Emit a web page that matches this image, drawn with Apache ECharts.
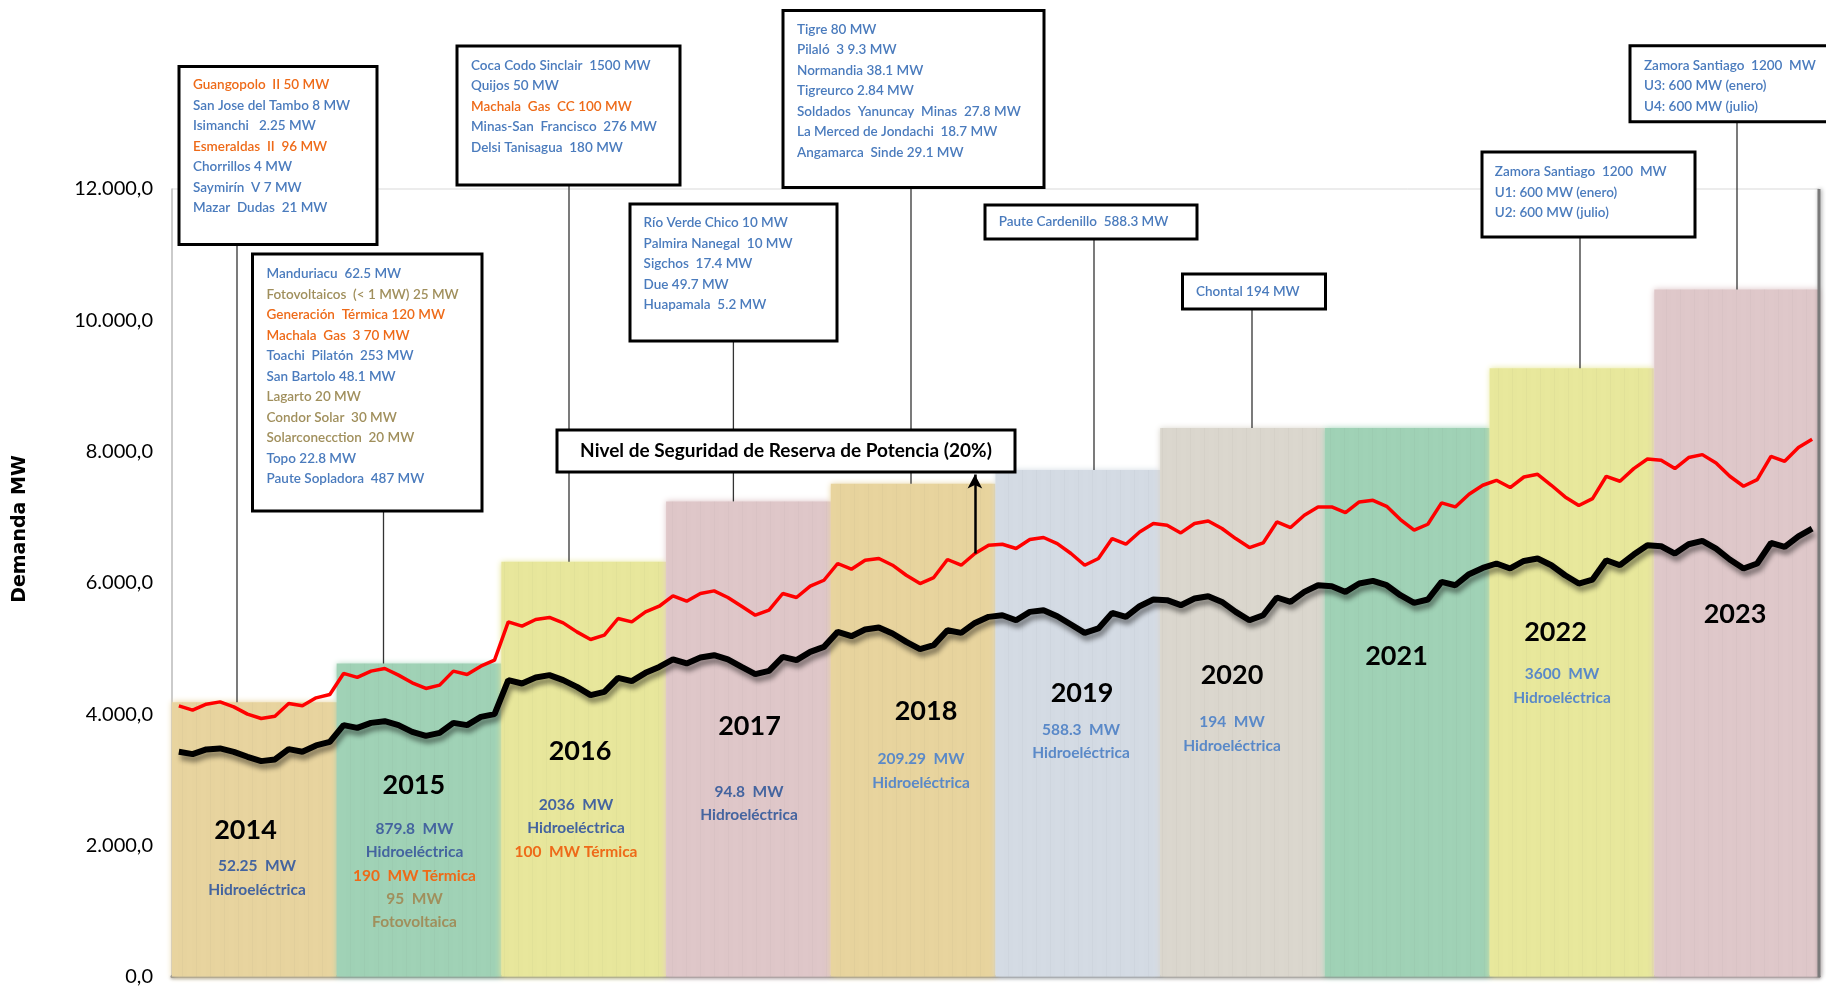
<!DOCTYPE html>
<html><head><meta charset="utf-8">
<script src="https://cdn.jsdelivr.net/npm/echarts@6/dist/echarts.min.js"></script>
<style>html,body{margin:0;padding:0;background:#fff}#c{width:1826px;height:987px}</style>
</head><body><div id="c"></div>
<script>
// ---------- DATA ----------
const years = ['2014','2015','2016','2017','2018','2019','2020','2021','2022','2023'];
// installed capacity blocks (MW)
const capacity = [4180, 4770, 6320, 7240, 7510, 7720, 8360, 8360, 9270, 10470];
// monthly demand (MW) – black line
const demand = [
  3425,3390,3461,3477,3425,3349,3283,3309,3466,3425,3522,3577,
  3831,3790,3866,3892,3831,3729,3668,3714,3866,3831,3958,3999,
  4517,4466,4558,4593,4517,4415,4288,4339,4552,4501,4628,4719,
  4832,4771,4862,4897,4832,4719,4608,4658,4871,4821,4947,5024,
  5252,5186,5289,5319,5228,5100,4990,5050,5278,5237,5389,5481,
  5506,5430,5557,5583,5491,5365,5237,5304,5542,5481,5643,5745,
  5735,5659,5761,5796,5709,5557,5430,5506,5776,5709,5861,5963,
  5948,5861,5989,6029,5963,5811,5694,5745,6013,5963,6131,6227,
  6294,6218,6333,6370,6268,6115,5989,6050,6344,6268,6431,6572,
  6557,6446,6588,6638,6522,6355,6218,6294,6607,6546,6709,6827
];
// monthly demand + reserve level – red line
const reserve = [
  4126,4060,4151,4186,4110,3999,3933,3968,4162,4126,4247,4298,
  4619,4558,4654,4695,4593,4476,4390,4441,4654,4603,4730,4821,
  5405,5339,5441,5472,5389,5252,5136,5202,5456,5405,5557,5643,
  5800,5720,5837,5877,5776,5643,5506,5583,5837,5776,5948,6039,
  6294,6207,6344,6370,6268,6115,5989,6080,6355,6268,6446,6572,
  6588,6522,6659,6690,6598,6446,6268,6370,6674,6588,6775,6903,
  6877,6760,6903,6942,6827,6674,6537,6607,6927,6842,7029,7156,
  7156,7070,7232,7257,7166,6964,6801,6892,7217,7156,7349,7486,
  7562,7451,7612,7653,7486,7308,7177,7283,7623,7547,7740,7886,
  7867,7740,7908,7953,7825,7623,7471,7573,7927,7851,8060,8186
];
const monthNames = ['ene','feb','mar','abr','may','jun','jul','ago','sep','oct','nov','dic'];
const yTickStep = 2000;
const arrowMonthIndex = 58;      // nov-2018
const arrowTopValue = 7650;
const reserveTitle = 'Nivel de Seguridad de Reserva de Potencia (20%)';
const axisTitle = 'Demanda MW';

// text of the project boxes  (colour key, text)
const box2014 = [['o','Guangopolo  II 50 MW'],['b','San Jose del Tambo 8 MW'],['b','Isimanchi   2.25 MW'],['o','Esmeraldas  II  96 MW'],['b','Chorrillos 4 MW'],['b','Saymirín  V 7 MW'],['b','Mazar  Dudas  21 MW']];
const box2015 = [['b','Manduriacu  62.5 MW'],['t','Fotovoltaicos  (< 1 MW) 25 MW'],['o','Generación  Térmica 120 MW'],['o','Machala  Gas  3 70 MW'],['b','Toachi  Pilatón  253 MW'],['b','San Bartolo 48.1 MW'],['t','Lagarto 20 MW'],['t','Condor Solar  30 MW'],['t','Solarconecction  20 MW'],['b','Topo 22.8 MW'],['b','Paute Sopladora  487 MW']];
const box2016 = [['b','Coca Codo Sinclair  1500 MW'],['b','Quijos 50 MW'],['o','Machala  Gas  CC 100 MW'],['b','Minas-San  Francisco  276 MW'],['b','Delsi Tanisagua  180 MW']];
const box2017 = [['b','Río Verde Chico 10 MW'],['b','Palmira Nanegal  10 MW'],['b','Sigchos  17.4 MW'],['b','Due 49.7 MW'],['b','Huapamala  5.2 MW']];
const box2018 = [['b','Tigre 80 MW'],['b','Pilaló  3 9.3 MW'],['b','Normandia 38.1 MW'],['b','Tigreurco 2.84 MW'],['b','Soldados  Yanuncay  Minas  27.8 MW'],['b','La Merced de Jondachi  18.7 MW'],['b','Angamarca  Sinde 29.1 MW']];
const box2019 = [['b','Paute Cardenillo  588.3 MW']];
const box2020 = [['b','Chontal 194 MW']];
const box2022 = [['b','Zamora Santiago  1200  MW'],['b','U1: 600 MW (enero)'],['b','U2: 600 MW (julio)']];
const box2023 = [['b','Zamora Santiago  1200  MW'],['b','U3: 600 MW (enero)'],['b','U4: 600 MW (julio)']];

// text inside the year blocks (colour key, text)
const notes2014 = [['d','52.25  MW'],['d','Hidroeléctrica']];
const notes2015 = [['d','879.8  MW'],['d','Hidroeléctrica'],['o','190  MW Térmica'],['t','95  MW'],['t','Fotovoltaica']];
const notes2016 = [['d','2036  MW'],['d','Hidroeléctrica'],['o','100  MW Térmica']];
const notes2017 = [['d','94.8  MW'],['d','Hidroeléctrica']];
const notes2018 = [['l','209.29  MW'],['l','Hidroeléctrica']];
const notes2019 = [['l','588.3  MW'],['l','Hidroeléctrica']];
const notes2020 = [['l','194  MW'],['l','Hidroeléctrica']];
const notes2022 = [['l','3600  MW'],['l','Hidroeléctrica']];

// ---------- STYLE / LAYOUT ----------
const barColors = ['#e8d49f','#a0d2b6','#e8e79c','#dfc7c9','#e8d49e','#d4dbe4','#dbd7ce','#a0d2b6','#e8e89c','#dfc8ca'];
const txtColors = {b:'#4a7bbd', o:'#ee6a18', t:'#a08f5c', d:'#44649f', l:'#5a89c8'};
const boxLayout = [
  {lines: box2014, x:179,  y:66.5, w:198, h:178, pad:14,  first:18.5, cx:237,   yi:0},
  {lines: box2015, x:252.5,y:254,  w:229.5,h:257,pad:14,  first:20,   cx:383.5, yi:1},
  {lines: box2016, x:457,  y:46,   w:223, h:139, pad:14,  first:19.3, cx:569,   yi:2},
  {lines: box2017, x:630,  y:204,  w:207, h:137, pad:13.6,first:18.7, cx:733.4, yi:3},
  {lines: box2018, x:783,  y:10.5, w:261, h:177, pad:14,  first:19,   cx:911,   yi:4},
  {lines: box2019, x:985,  y:205,  w:212, h:34,  pad:13.7,first:17,   cx:1094,  yi:5},
  {lines: box2020, x:1182.5,y:274, w:143, h:35,  pad:13.5,first:17.5, cx:1252,  yi:6},
  {lines: box2022, x:1482, y:152,  w:213, h:85,  pad:12.8,first:19.7, cx:1580,  yi:8},
  {lines: box2023, x:1630, y:45.7, w:220, h:76,  pad:14,  first:19.6, cx:1737,  yi:9}
];
const yearLabelPos = [[245.5,830.5],[413.8,785],[580,751],[749.5,726],[926,711],[1082,693],[1232,675],[1396.5,656],[1555.5,632],[1735,614]];
const notesLayout = [
  {lines: notes2014, x:257,   y:866,   dy:24},
  {lines: notes2015, x:414.5, y:829,   dy:23.3},
  {lines: notes2016, x:576,   y:804.5, dy:23.5},
  {lines: notes2017, x:749,   y:791.5, dy:23.8},
  {lines: notes2018, x:921,   y:758.5, dy:24},
  {lines: notes2019, x:1081,  y:729.5, dy:23.5},
  {lines: notes2020, x:1232,  y:721.5, dy:24},
  {lines: notes2022, x:1562,  y:673.5, dy:24}
];

const months = [];
years.forEach(y => monthNames.forEach(m => months.push(m + '-' + y)));

function fmt(v){
  return String(Math.round(v)).replace(/\B(?=(\d{3})+(?!\d))/g, '.') + ',0';
}

const chart = echarts.init(document.getElementById('c'), null, {renderer:'canvas'});
chart.setOption({
  animation: false,
  backgroundColor: '#ffffff',
  grid: {left:172, right:7, top:189, bottom:10.4, show:true, borderColor:'#d9d9d9', borderWidth:1, backgroundColor:'transparent'},
  xAxis: [
    {type:'category', data: years, gridIndex:0, boundaryGap:true,
     axisLabel:{show:false}, axisTick:{show:false},
     axisLine:{show:true, lineStyle:{color:'#8a8a8a', width:3, shadowColor:'rgba(0,0,0,0.35)', shadowBlur:3, shadowOffsetY:1}},
     splitLine:{show:false}},
    {type:'category', data: months, gridIndex:0, boundaryGap:true, show:false}
  ],
  yAxis: {type:'value', min:0, max:12000, interval:yTickStep,
    axisLabel:{formatter: fmt, fontSize:20, fontFamily:'Lato', color:'#000', margin:19},
    axisLine:{show:true, lineStyle:{color:'#c0c0c0', width:1.5}},
    axisTick:{show:false}, splitLine:{show:false}},
  series: [
    {type:'bar', xAxisIndex:0, yAxisIndex:0, barCategoryGap:'0%', silent:true, z:1,
     data: capacity.map((v,i)=>({value:v, itemStyle:{color:barColors[i], shadowColor:barColors[i], shadowBlur:6,
       decal:{symbol:'rect', symbolSize:1, dashArrayX:[1, 12.73], dashArrayY:[20, 0], color:'rgba(90,90,90,0.04)'}}}))},
    {type:'line', name:'Demanda', xAxisIndex:1, yAxisIndex:0, data: demand, showSymbol:false, symbol:'none', silent:true, z:3,
     lineStyle:{color:'#000', width:6, shadowColor:'rgba(0,0,0,0.45)', shadowBlur:5, shadowOffsetX:2, shadowOffsetY:5}},
    {type:'line', name:'Reserva', xAxisIndex:1, yAxisIndex:0, data: reserve, showSymbol:false, symbol:'none', silent:true, z:4,
     lineStyle:{color:'#ff0000', width:3.5},
     markLine:{silent:true, symbol:['none','arrow'], symbolSize:[11,14], label:{show:false},
       lineStyle:{color:'#000', width:2.5, type:'solid'},
       data:[[{coord:[arrowMonthIndex, reserve[arrowMonthIndex]]},{coord:[arrowMonthIndex, arrowTopValue]}]]}}
  ]
});

// ---------- ANNOTATIONS ----------
const g = [];
boxLayout.forEach(b => {
  const topY = chart.convertToPixel({yAxisIndex:0}, capacity[b.yi]);
  g.push({type:'line', z:100, silent:true, shape:{x1:b.cx, y1:b.y+b.h, x2:b.cx, y2:topY}, style:{stroke:'#333', lineWidth:1.3}});
});
// reserve title box
g.push({type:'rect', z:110, silent:true, shape:{x:557, y:430, width:458, height:42}, style:{fill:'#fff', stroke:'#000', lineWidth:3}});
g.push({type:'text', z:111, silent:true, x:786, y:451, style:{text:reserveTitle, font:'bold 19px Lato', fill:'#000', textAlign:'center', textVerticalAlign:'middle'}});
boxLayout.forEach(b => {
  g.push({type:'rect', z:110, silent:true, shape:{x:b.x, y:b.y, width:b.w, height:b.h}, style:{fill:'#fff', stroke:'#000', lineWidth:3}});
  b.lines.forEach((ln, i) => {
    g.push({type:'text', z:111, silent:true, x:b.x+b.pad, y:b.y+b.first+i*20.5,
      style:{text:ln[1], font:'600 13.5px Lato', fill:txtColors[ln[0]], textAlign:'left', textVerticalAlign:'middle'}});
  });
});
years.forEach((y, i) => {
  g.push({type:'text', z:105, silent:true, x:yearLabelPos[i][0], y:yearLabelPos[i][1],
    style:{text:y, font:'bold 27px Lato', fill:'#000', textAlign:'center', textVerticalAlign:'middle'}});
});
notesLayout.forEach(n => {
  n.lines.forEach((ln, i) => {
    g.push({type:'text', z:105, silent:true, x:n.x, y:n.y + i*n.dy,
      style:{text:ln[1], font:'bold 15.5px Lato', fill:txtColors[ln[0]], textAlign:'center', textVerticalAlign:'middle'}});
  });
});
g.push({type:'text', z:105, silent:true, x:20, y:529, rotation:Math.PI/2,
  style:{text:axisTitle, font:'bold 19px "DejaVu Sans"', fill:'#000', textAlign:'center', textVerticalAlign:'middle'}});
// right frame edge
g.push({type:'line', z:90, silent:true, shape:{x1:1819, y1:189, x2:1819, y2:977},
  style:{stroke:'#7a7a7a', lineWidth:3, shadowColor:'rgba(0,0,0,0.4)', shadowBlur:4, shadowOffsetX:1}});
chart.setOption({graphic: g});
</script></body></html>
